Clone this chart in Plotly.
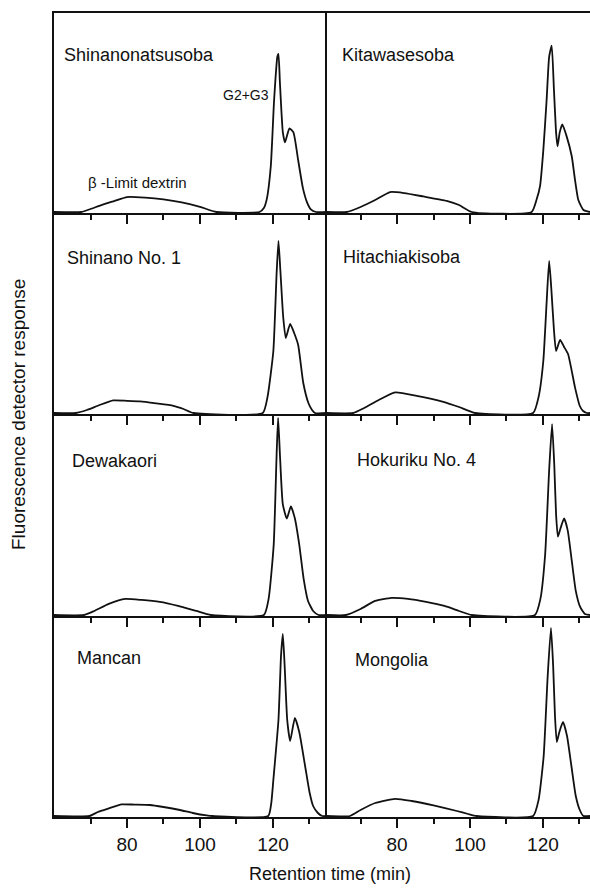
import plotly.graph_objects as go

# Retention time (min) and detector response (relative units) for each cultivar
shinanonatsusoba_t = [60, 67.5, 70, 73, 76.5, 80, 85, 90, 95, 100, 104.5, 116.3, 117.5, 118.3, 119.4, 120.3, 121.2, 121.5, 121.9, 122.7, 123.3, 124.5, 125.6, 126.9, 128.2, 129.3, 130.3, 131.8, 134.8]
shinanonatsusoba_r = [0, 0, 1.5, 3.5, 5.5, 7.5, 7.2, 6.3, 4.8, 2.6, 0, 0, 2, 6.5, 23, 56, 78, 79.5, 65, 40, 35, 42, 40, 26, 12, 5, 1.5, 0, 0]

kitawasesoba_t = [60.8, 66.2, 70, 74, 78.1, 82, 87.2, 93.6, 97, 100.5, 116.9, 118.3, 119.2, 120.1, 121, 121.7, 122.4, 123, 123.6, 124, 124.6, 125.3, 126.5, 127.9, 128.8, 129.7, 131.1, 132.9]
kitawasesoba_r = [0, 0, 2.5, 6, 10, 9.5, 7.8, 5.6, 3.5, 0, 0, 6.5, 13, 31, 56, 78, 83.6, 62, 40, 33, 40, 44, 38, 28, 16, 6, 1, 0]

shinano1_t = [60, 66, 69, 72.5, 76.2, 80, 83.6, 88, 92.7, 95.5, 98.2, 117.2, 118.5, 120.1, 121, 121.5, 122, 122.8, 123.5, 124.7, 125.8, 126.9, 128.3, 129.7, 130.7, 131.5, 134.8]
shinano1_r = [0, 0, 1.5, 4, 6.3, 6.1, 5.8, 4.8, 3.6, 2, 0, 0, 8, 31, 70, 86, 72, 48, 37.5, 44.5, 40, 34, 15, 5, 1.5, 0, 0]

hitachiakisoba_t = [60.8, 68, 71, 75, 79.5, 85.4, 92.7, 97, 101.4, 117.3, 118.8, 120.1, 121, 121.7, 122.3, 123, 123.6, 124.7, 125.8, 126.9, 128.8, 130.1, 131, 132, 132.9]
hitachiakisoba_r = [0, 0, 2.5, 6.5, 10.3, 8.6, 5.6, 3, 0, 0, 8, 26, 55, 76, 62, 42, 31, 36.5, 33, 29.4, 12.7, 3.5, 1, 0, 0]

dewakaori_t = [60, 68.2, 71, 75, 79.5, 84, 89, 94, 99, 103, 117.5, 118.8, 120.2, 121, 121.4, 121.9, 122.7, 123.8, 124.9, 126, 127.2, 128.4, 129.6, 131, 132.5, 134.8]
dewakaori_r = [0, 0, 2, 5.5, 8, 7.5, 6.5, 4.5, 2, 0, 0, 8, 35, 80, 98, 80, 55, 48, 54, 48, 35, 18, 7, 2, 0, 0]

hokuriku4_t = [60.8, 66, 70, 74, 78.5, 83, 88, 93, 97, 100.5, 117.8, 119.3, 120.6, 121.7, 122.5, 123.1, 123.6, 124.1, 124.8, 125.8, 126.8, 127.9, 129, 130.2, 131.5, 132.9]
hokuriku4_r = [0, 0, 3, 7, 8.5, 8, 6.5, 4.5, 2, 0, 0, 8, 30, 72, 95, 75, 50, 39, 43, 48, 42, 27, 12, 4, 0.5, 0]

mancan_t = [60, 69.7, 72, 75, 78.5, 82, 86.3, 90, 94.5, 98, 101.8, 103.5, 118.7, 119.5, 120.1, 121.5, 122.2, 122.7, 123.2, 123.9, 124.7, 126, 127.2, 128.8, 130, 131, 132.3, 133.5, 134.8]
mancan_r = [0, 0, 2, 3.8, 5.8, 5.7, 5.5, 4.5, 3, 1.5, 0.3, 0, 0, 6, 18, 48, 80, 91, 75, 48, 37.5, 49, 42, 25, 12, 5, 1.5, 0, 0]

mongolia_t = [60.8, 67.1, 70, 74, 79.5, 84, 90, 96.4, 99.5, 101.8, 117.3, 118.8, 120.2, 121.3, 122.2, 122.8, 123.3, 123.8, 124.5, 125.5, 126.6, 127.8, 129, 130.1, 131.1, 132.9]
mongolia_r = [0, 0, 3, 6.5, 8.6, 7.5, 5.3, 2.5, 1, 0, 0, 8, 30, 70, 94, 75, 50, 37, 42, 47, 40, 25, 10, 3, 0, 0]

cultivars = ["Shinanonatsusoba", "Kitawasesoba", "Shinano No. 1", "Hitachiakisoba",
             "Dewakaori", "Hokuriku No. 4", "Mancan", "Mongolia"]
series = [(shinanonatsusoba_t, shinanonatsusoba_r), (kitawasesoba_t, kitawasesoba_r),
          (shinano1_t, shinano1_r), (hitachiakisoba_t, hitachiakisoba_r),
          (dewakaori_t, dewakaori_r), (hokuriku4_t, hokuriku4_r),
          (mancan_t, mancan_r), (mongolia_t, mongolia_r)]

major_ticks = [80, 100, 120]
major_labels = ["80", "100", "120"]
minor_ticks = [70, 90, 110, 130]

W, H = 590, 890
FONT = "Liberation Sans, Arial, sans-serif"
INK = "#111111"

# panel geometry in pixels
col_edges = [(54, 327), (327, 590)]
row_edges = [(13, 213), (213, 414), (414, 616), (616, 817)]
x_ranges = [[60, 134.8], [60.8, 132.9]]
# cultivar name placement (left edge, vertical centre) in pixels
name_pos = [(62, 55), (340, 55), (65, 258), (341, 257),
            (70, 461), (355, 460), (75, 658), (353, 660)]

fig = go.Figure()
layout = {}
annotations = []

for i, (name, (t, r)) in enumerate(zip(cultivars, series)):
    row, col = divmod(i, 2)
    n = i + 1
    xa = "xaxis" if n == 1 else f"xaxis{n}"
    ya = "yaxis" if n == 1 else f"yaxis{n}"
    xr = "x" if n == 1 else f"x{n}"
    yr = "y" if n == 1 else f"y{n}"
    x0, x1 = col_edges[col]
    top, bot = row_edges[row]
    fig.add_trace(go.Scatter(
        x=t, y=r, mode="lines", xaxis=xr, yaxis=yr, showlegend=False,
        line=dict(color=INK, width=1.8, shape="spline", smoothing=0.5),
        hoverinfo="skip"))
    layout[xa] = dict(
        domain=[x0 / W, x1 / W], anchor=yr, range=x_ranges[col],
        showgrid=False, zeroline=False, showline=True, linecolor=INK, linewidth=2,
        mirror=(row == 0),
        ticks="outside", tickvals=major_ticks, ticktext=major_labels,
        ticklen=9, tickwidth=1.6, tickcolor=INK,
        showticklabels=(row == 3),
        tickfont=dict(family=FONT, size=19, color=INK),
        minor=dict(tickvals=minor_ticks, ticks="outside", ticklen=5,
                   tickwidth=1.6, tickcolor=INK, showgrid=False),
        fixedrange=True)
    layout[ya] = dict(
        domain=[1 - bot / H, 1 - top / H], anchor=xr, range=[-0.5, 100],
        showgrid=False, zeroline=False, showline=True, linecolor=INK, linewidth=2,
        ticks="", showticklabels=False, fixedrange=True)
    px, py = name_pos[i]
    annotations.append(dict(
        x=px / W, y=1 - py / H,
        xref="paper", yref="paper", xanchor="left", yanchor="middle",
        text=name, showarrow=False, font=dict(family=FONT, size=18, color=INK)))

# peak labels in the first panel
annotations.append(dict(x=105.8, y=59, xref="x", yref="y", xanchor="left", yanchor="middle",
                        text="G2+G3", showarrow=False,
                        font=dict(family=FONT, size=14, color=INK)))
annotations.append(dict(x=68.8, y=15, xref="x", yref="y", xanchor="left", yanchor="middle",
                        text="β -Limit dextrin", showarrow=False,
                        font=dict(family=FONT, size=15, color=INK)))

# shared axis titles
annotations.append(dict(x=330 / W, y=1 - 874 / H, xref="paper", yref="paper",
                        xanchor="center", yanchor="middle", text="Retention time (min)",
                        showarrow=False, font=dict(family=FONT, size=18, color=INK)))
annotations.append(dict(x=19 / W, y=1 - 415 / H, xref="paper", yref="paper",
                        xanchor="center", yanchor="middle", textangle=-90,
                        text="Fluorescence detector response",
                        showarrow=False, font=dict(family=FONT, size=19, color=INK)))

fig.update_layout(
    width=W, height=H, margin=dict(l=0, r=0, t=0, b=0),
    paper_bgcolor="white", plot_bgcolor="white",
    annotations=annotations, **layout)

fig.write_html("out.html")
